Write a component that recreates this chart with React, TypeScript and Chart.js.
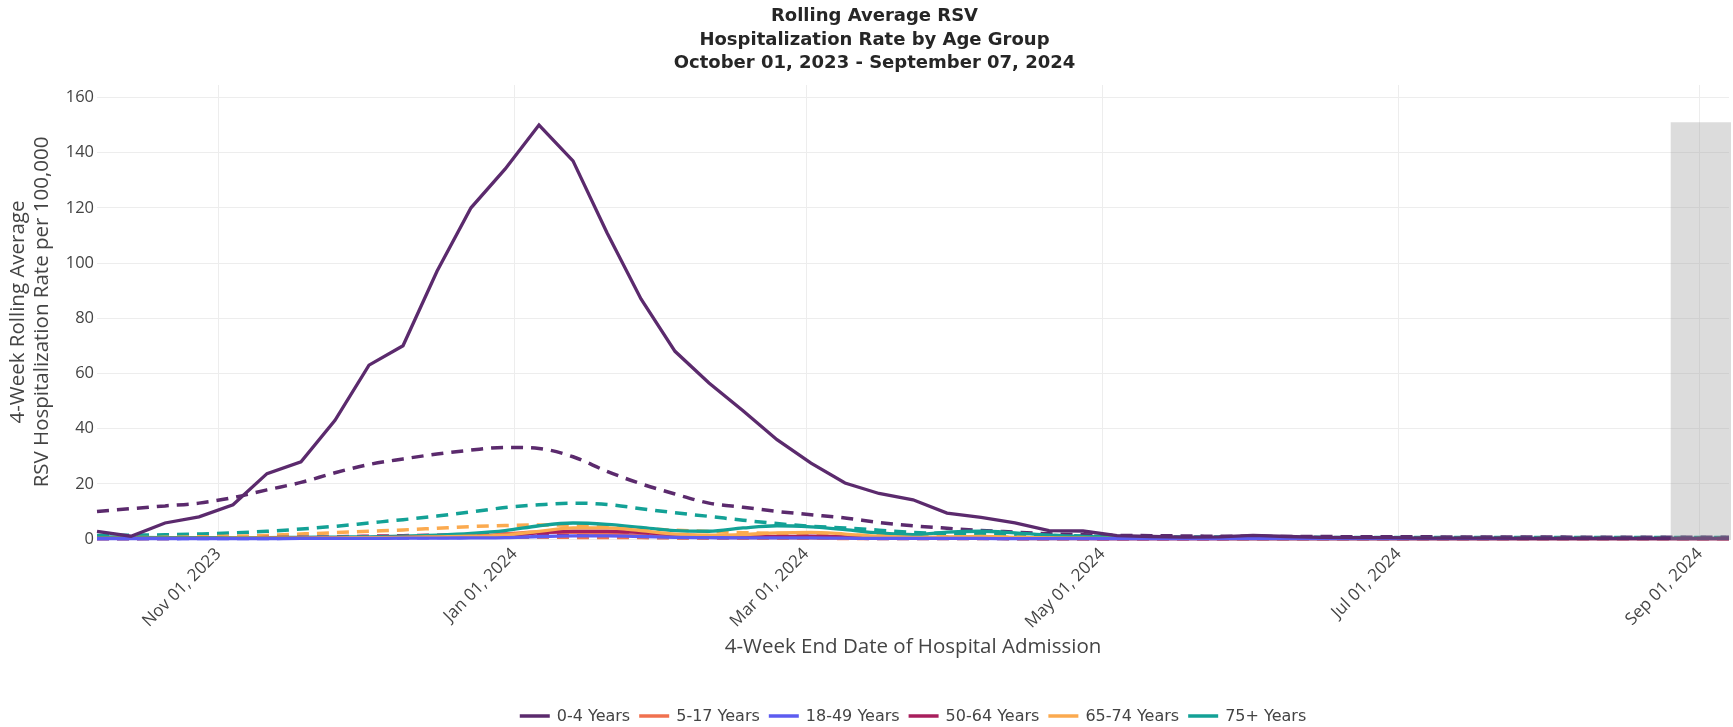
import React, { useEffect, useRef } from 'react';
import { Chart, registerables } from 'chart.js';

Chart.register(...registerables);

// ---- Data -----------------------------------------------------------------
const WEEK_END_DATES = [
  '2023-10-07', '2023-10-14', '2023-10-21', '2023-10-28',
  '2023-11-04', '2023-11-11', '2023-11-18', '2023-11-25',
  '2023-12-02', '2023-12-09', '2023-12-16', '2023-12-23', '2023-12-30',
  '2024-01-06', '2024-01-13', '2024-01-20', '2024-01-27',
  '2024-02-03', '2024-02-10', '2024-02-17', '2024-02-24',
  '2024-03-02', '2024-03-09', '2024-03-16', '2024-03-23', '2024-03-30',
  '2024-04-06', '2024-04-13', '2024-04-20', '2024-04-27',
  '2024-05-04', '2024-05-11', '2024-05-18', '2024-05-25',
  '2024-06-01', '2024-06-08', '2024-06-15', '2024-06-22', '2024-06-29',
  '2024-07-06', '2024-07-13', '2024-07-20', '2024-07-27',
  '2024-08-03', '2024-08-10', '2024-08-17', '2024-08-24', '2024-08-31',
  '2024-09-07',
];

const AGE_GROUPS = ['0-4 Years', '5-17 Years', '18-49 Years', '50-64 Years', '65-74 Years', '75+ Years'];

// current season (solid)
const RATE_0_4 = [
  2.8, 1.0, 5.8, 8.0, 12.4, 23.7, 28.0, 43.0, 63.0, 70.0, 97.0, 120.0, 134.0,
  150.0, 137.0, 111.0, 87.0, 68.0, 56.5, 46.5, 36.0, 27.5, 20.3, 16.5, 14.2,
  9.4, 7.8, 5.8, 3.0, 2.9, 1.2, 0.9, 0.7, 0.8, 1.3, 0.9, 0.6, 0.5, 0.5,
  0.3, 0.3, 0.3, 0.2, 0.2, 0.2, 0.2, 0.2, 0.2, 0.2,
];
const RATE_5_17 = [
  0.2, 0.2, 0.2, 0.2, 0.3, 0.3, 0.3, 0.4, 0.5, 0.6, 0.8, 1.0, 1.8,
  2.6, 2.4, 1.8, 1.2, 0.8, 0.6, 0.5, 0.5, 0.4, 0.3, 0.3, 0.2,
  0.2, 0.2, 0.2, 0.1, 0.1, 0.1, 0.1, 0.1, 0.1, 0.1, 0.1, 0.1, 0.1, 0.1,
  0.1, 0.1, 0.1, 0.1, 0.1, 0.1, 0.1, 0.1, 0.1, 0.1,
];
const RATE_18_49 = [
  0.1, 0.1, 0.1, 0.1, 0.1, 0.1, 0.2, 0.2, 0.2, 0.3, 0.3, 0.4, 0.5,
  0.9, 1.1, 1.1, 0.9, 0.6, 0.5, 0.4, 0.4, 0.4, 0.3, 0.2, 0.2,
  0.2, 0.2, 0.1, 0.1, 0.1, 0.1, 0.1, 0.1, 0.1, 0.1, 0.1, 0.1, 0.1, 0.1,
  0.1, 0.1, 0.1, 0.1, 0.1, 0.1, 0.1, 0.1, 0.1, 0.1,
];
const RATE_50_64 = [
  0.2, 0.2, 0.2, 0.2, 0.2, 0.3, 0.3, 0.4, 0.5, 0.6, 0.7, 0.9, 1.3,
  2.2, 2.8, 2.8, 2.3, 1.6, 1.1, 0.9, 0.9, 1.0, 0.8, 0.5, 0.3,
  0.3, 0.3, 0.2, 0.2, 0.2, 0.1, 0.1, 0.1, 0.1, 0.1, 0.1, 0.1, 0.1, 0.1,
  0.1, 0.1, 0.1, 0.1, 0.1, 0.1, 0.1, 0.1, 0.1, 0.1,
];
const RATE_65_74 = [
  0.2, 0.2, 0.2, 0.2, 0.3, 0.3, 0.3, 0.4, 0.5, 0.6, 0.8, 1.0, 1.4,
  2.8, 4.0, 4.0, 3.0, 1.8, 1.4, 1.6, 2.2, 2.4, 1.8, 1.0, 0.6,
  0.8, 0.9, 0.6, 0.4, 0.3, 0.2, 0.2, 0.2, 0.2, 0.1, 0.1, 0.1, 0.1, 0.1,
  0.1, 0.1, 0.1, 0.1, 0.1, 0.1, 0.1, 0.1, 0.1, 0.1,
];
const RATE_75_PLUS = [
  0.9, 0.6, 0.5, 0.5, 0.5, 0.5, 0.6, 0.7, 0.8, 1.0, 1.4, 2.0, 3.0,
  4.8, 5.8, 5.3, 4.2, 3.0, 2.8, 4.0, 4.8, 4.4, 3.4, 2.2, 1.6,
  2.5, 2.8, 2.2, 1.4, 0.9, 0.6, 0.5, 0.4, 0.4, 0.4, 0.3, 0.3, 0.3, 0.3,
  0.2, 0.2, 0.2, 0.2, 0.2, 0.2, 0.2, 0.2, 0.2, 0.2,
];

// comparison season (dashed)
const PRIOR_0_4 = [
  10.0, 11.0, 12.0, 13.0, 15.0, 17.8, 20.5, 24.0, 27.0, 29.0, 30.8, 32.2, 33.2,
  32.8, 29.8, 24.5, 20.0, 16.3, 13.0, 11.5, 10.0, 8.8, 7.6, 6.0, 4.8,
  3.9, 3.1, 2.5, 1.9, 1.5, 1.3, 1.2, 1.1, 1.0, 1.0, 0.9, 0.9, 0.8, 0.8,
  0.8, 0.7, 0.7, 0.7, 0.7, 0.6, 0.6, 0.6, 0.6, 0.6,
];
const PRIOR_5_17 = [
  0.2, 0.2, 0.2, 0.3, 0.3, 0.4, 0.4, 0.5, 0.6, 0.6, 0.7, 0.7, 0.7,
  0.7, 0.6, 0.5, 0.5, 0.4, 0.4, 0.3, 0.3, 0.3, 0.2, 0.2, 0.2,
  0.2, 0.2, 0.1, 0.1, 0.1, 0.1, 0.1, 0.1, 0.1, 0.1, 0.1, 0.1, 0.1, 0.1,
  0.1, 0.1, 0.1, 0.1, 0.1, 0.1, 0.1, 0.1, 0.1, 0.1,
];
const PRIOR_18_49 = [
  0.1, 0.1, 0.1, 0.2, 0.2, 0.2, 0.3, 0.3, 0.4, 0.4, 0.5, 0.6, 0.6,
  0.7, 0.7, 0.6, 0.6, 0.5, 0.4, 0.4, 0.3, 0.3, 0.3, 0.2, 0.2,
  0.2, 0.2, 0.1, 0.1, 0.1, 0.1, 0.1, 0.1, 0.1, 0.1, 0.1, 0.1, 0.1, 0.1,
  0.1, 0.1, 0.1, 0.1, 0.1, 0.1, 0.1, 0.1, 0.1, 0.1,
];
const PRIOR_50_64 = [
  0.2, 0.2, 0.3, 0.3, 0.4, 0.5, 0.6, 0.8, 1.0, 1.2, 1.4, 1.6, 1.8,
  1.9, 1.8, 1.6, 1.4, 1.2, 1.0, 0.9, 0.8, 0.7, 0.6, 0.5, 0.4,
  0.4, 0.3, 0.3, 0.3, 0.2, 0.2, 0.2, 0.2, 0.2, 0.2, 0.2, 0.2, 0.2, 0.2,
  0.2, 0.2, 0.2, 0.2, 0.2, 0.2, 0.2, 0.2, 0.2, 0.2,
];
const PRIOR_65_74 = [
  0.4, 0.5, 0.6, 0.8, 1.0, 1.3, 1.8, 2.3, 2.8, 3.3, 3.9, 4.5, 4.9,
  5.1, 4.9, 4.4, 3.8, 3.2, 2.7, 2.3, 2.0, 1.7, 1.4, 1.2, 1.0,
  0.8, 0.7, 0.6, 0.5, 0.4, 0.3, 0.3, 0.3, 0.2, 0.2, 0.2, 0.2, 0.2, 0.2,
  0.2, 0.2, 0.2, 0.2, 0.2, 0.2, 0.2, 0.2, 0.2, 0.2,
];
const PRIOR_75_PLUS = [
  1.3, 1.4, 1.5, 1.8, 2.2, 2.8, 3.6, 4.6, 5.8, 7.0, 8.3, 9.8, 11.4,
  12.4, 13.0, 12.5, 11.0, 9.5, 8.2, 6.8, 5.6, 4.6, 4.0, 3.2, 2.4,
  2.0, 1.7, 1.5, 1.3, 1.1, 0.9, 0.8, 0.7, 0.7, 0.6, 0.6, 0.6, 0.5, 0.5,
  0.5, 0.5, 0.5, 0.5, 0.5, 0.5, 0.5, 0.5, 0.5, 0.5,
];

const SERIES_COLORS = ['#5b2a6d', '#f0714f', '#5d5cf0', '#a81f5d', '#fbaa4f', '#13a196'];

const X_TICK_DATES = ['2023-11-01', '2024-01-01', '2024-03-01', '2024-05-01', '2024-07-01', '2024-09-01'];
const X_TICK_LABELS = ['Nov 01, 2023', 'Jan 01, 2024', 'Mar 01, 2024', 'May 01, 2024', 'Jul 01, 2024', 'Sep 01, 2024'];
const Y_TICKS = [0, 20, 40, 60, 80, 100, 120, 140, 160];
const Y_MAX = 164.5;

const SHADE_START = '2024-08-26';
const SHADE_END = '2024-09-07';
const SHADE_TOP = 151;

const TITLE_LINES = [
  'Rolling Average RSV',
  'Hospitalization Rate by Age Group',
  'October 01, 2023 - September 07, 2024',
];
const X_TITLE = '4-Week End Date of Hospital Admission';
const Y_TITLE = ['4-Week Rolling Average', 'RSV Hospitalization Rate per 100,000'];

// ---- helpers --------------------------------------------------------------
const ORIGIN = Date.UTC(2023, 9, 7);
const dayOf = (s: string) => {
  const [y, m, d] = s.split('-').map(Number);
  return (Date.UTC(y, m - 1, d) - ORIGIN) / 86400000;
};
const toPoints = (vals: number[]) => vals.map((v, i) => ({ x: dayOf(WEEK_END_DATES[i]), y: v }));

const CURRENT = [RATE_0_4, RATE_5_17, RATE_18_49, RATE_50_64, RATE_65_74, RATE_75_PLUS];
const PRIOR = [PRIOR_0_4, PRIOR_5_17, PRIOR_18_49, PRIOR_50_64, PRIOR_65_74, PRIOR_75_PLUS];

const W = 1733;
const H = 727;

const shadePlugin = {
  id: 'shadeBox',
  afterDatasetsDraw(chart: any) {
    const { ctx, scales } = chart;
    const xs = scales.x;
    const ys = scales.y;
    const x0 = xs.getPixelForValue(dayOf(SHADE_START));
    const x1 = xs.getPixelForValue(dayOf(SHADE_END)) + 2;
    const y0 = ys.getPixelForValue(0) + 1;
    const y1 = ys.getPixelForValue(SHADE_TOP);
    ctx.save();
    ctx.fillStyle = 'rgba(150,150,150,0.33)';
    ctx.fillRect(x0, y1, x1 - x0, y0 - y1);
    ctx.restore();
  },
};

const textPlugin = {
  id: 'titleLegend',
  afterDraw(chart: any) {
    const { ctx, chartArea } = chart;
    ctx.save();
    // title
    ctx.fillStyle = '#262626';
    ctx.font = 'bold 18px "DejaVu Sans"';
    ctx.textAlign = 'center';
    ctx.textBaseline = 'middle';
    const tx = chart.width / 2 + 8;
    const ty = [16.5, 40, 63.5];
    TITLE_LINES.forEach((t, i) => ctx.fillText(t, tx, ty[i]));

    // legend
    ctx.font = '16px "DejaVu Sans"';
    ctx.textAlign = 'left';
    const items = chart.data.datasets.filter((d: any) => !d.borderDash);
    items.sort((a: any, b: any) => a.legendIndex - b.legendIndex);
    const sym = 30;
    const gap = 7;
    const between = 9;
    const widths = items.map((d: any) => sym + gap + ctx.measureText(d.label).width);
    const total = widths.reduce((a: number, b: number) => a + b, 0) + between * (items.length - 1);
    let x = (chartArea.left + chartArea.right) / 2 - total / 2;
    const ly = 716;
    items.forEach((d: any, i: number) => {
      ctx.strokeStyle = d.borderColor;
      ctx.lineWidth = 3.5;
      ctx.beginPath();
      ctx.moveTo(x, ly);
      ctx.lineTo(x + sym, ly);
      ctx.stroke();
      ctx.fillStyle = '#444';
      ctx.fillText(d.label, x + sym + gap, ly + 1);
      x += widths[i] + between;
    });
    ctx.restore();
  },
};

function buildDatasets() {
  const ds: any[] = [];
  const drawOrder = [0, 5, 1, 3, 2, 4]; // lower = drawn on top
  PRIOR.forEach((vals, i) => {
    ds.push({
      label: AGE_GROUPS[i] + ' (comparison)',
      data: toPoints(vals),
      borderColor: SERIES_COLORS[i],
      backgroundColor: SERIES_COLORS[i],
      borderWidth: 3.5,
      borderDash: [12, 8],
      pointRadius: 0,
      cubicInterpolationMode: 'monotone',
      fill: false,
      clip: false,
      order: 20 + i,
    });
  });
  CURRENT.forEach((vals, i) => {
    ds.push({
      label: AGE_GROUPS[i],
      legendIndex: i,
      data: toPoints(vals),
      borderColor: SERIES_COLORS[i],
      backgroundColor: SERIES_COLORS[i],
      borderWidth: 3.3,
      pointRadius: 0,
      tension: i === 0 ? 0 : undefined,
      cubicInterpolationMode: i === 0 ? 'default' : 'monotone',
      fill: false,
      clip: false,
      order: drawOrder[i],
    });
  });
  return ds;
}

export default function App() {
  const canvasRef = useRef<HTMLCanvasElement | null>(null);

  useEffect(() => {
    document.body.style.margin = '0';
    let chart: Chart | null = null;
    let cancelled = false;

    const create = () => {
      if (cancelled || !canvasRef.current) return;
      chart = new Chart(canvasRef.current, {
        type: 'line',
        data: { datasets: buildDatasets() },
        options: {
          animation: false,
          responsive: false,
          devicePixelRatio: 1,
          layout: { padding: { top: 85, right: 4, bottom: 0, left: 0 } },
          plugins: {
            legend: { display: false },
            title: { display: false },
            tooltip: { enabled: false },
          },
          scales: {
            x: {
              type: 'linear',
              min: 0,
              max: dayOf(WEEK_END_DATES[WEEK_END_DATES.length - 1]),
              afterBuildTicks: (scale: any) => {
                scale.ticks = X_TICK_DATES.map((d) => ({ value: dayOf(d) }));
              },
              afterFit: (scale: any) => {
                scale.height = 188;
              },
              ticks: {
                autoSkip: false,
                minRotation: 45,
                maxRotation: 45,
                padding: 5,
                color: '#444',
                font: { family: 'Open Sans', size: 17 },
                callback: (value: any) => {
                  const idx = X_TICK_DATES.findIndex((d) => dayOf(d) === value);
                  return idx >= 0 ? X_TICK_LABELS[idx] : '';
                },
              },
              grid: { color: '#ededed', lineWidth: 1, drawTicks: false },
              border: { display: false },
              title: {
                display: true,
                text: X_TITLE,
                color: '#444',
                font: { family: 'Open Sans', size: 20.5, lineHeight: 1.15 },
                padding: { top: 0, bottom: 68 },
              },
            },
            y: {
              type: 'linear',
              min: 0,
              max: Y_MAX,
              afterBuildTicks: (scale: any) => {
                scale.ticks = Y_TICKS.map((v) => ({ value: v }));
              },
              afterFit: (scale: any) => {
                scale.width = 97;
              },
              ticks: {
                padding: 3,
                color: '#444',
                font: { family: 'Open Sans', size: 16.5 },
              },
              grid: { color: '#ededed', lineWidth: 1, drawTicks: false },
              border: { display: false },
              title: {
                display: true,
                text: Y_TITLE,
                color: '#444',
                font: { family: 'Open Sans', size: 20.5, lineHeight: 1.19 },
                padding: { top: 6, bottom: 0 },
              },
            },
          },
        } as any,
        plugins: [shadePlugin, textPlugin],
      });
    };

    const fontsApi: any = (document as any).fonts;
    if (fontsApi && fontsApi.load) {
      Promise.all([
        fontsApi.load('16px "Open Sans"'),
        fontsApi.load('20px "Open Sans"'),
        fontsApi.load('16px "DejaVu Sans"'),
        fontsApi.load('bold 18px "DejaVu Sans"'),
      ])
        .catch(() => null)
        .then(create);
    } else {
      create();
    }

    return () => {
      cancelled = true;
      if (chart) chart.destroy();
    };
  }, []);

  return (
    <div style={{ width: W, height: H, position: 'relative', overflow: 'hidden', background: '#fff' }}>
      <canvas ref={canvasRef} width={W} height={H} style={{ display: 'block' }} />
    </div>
  );
}
